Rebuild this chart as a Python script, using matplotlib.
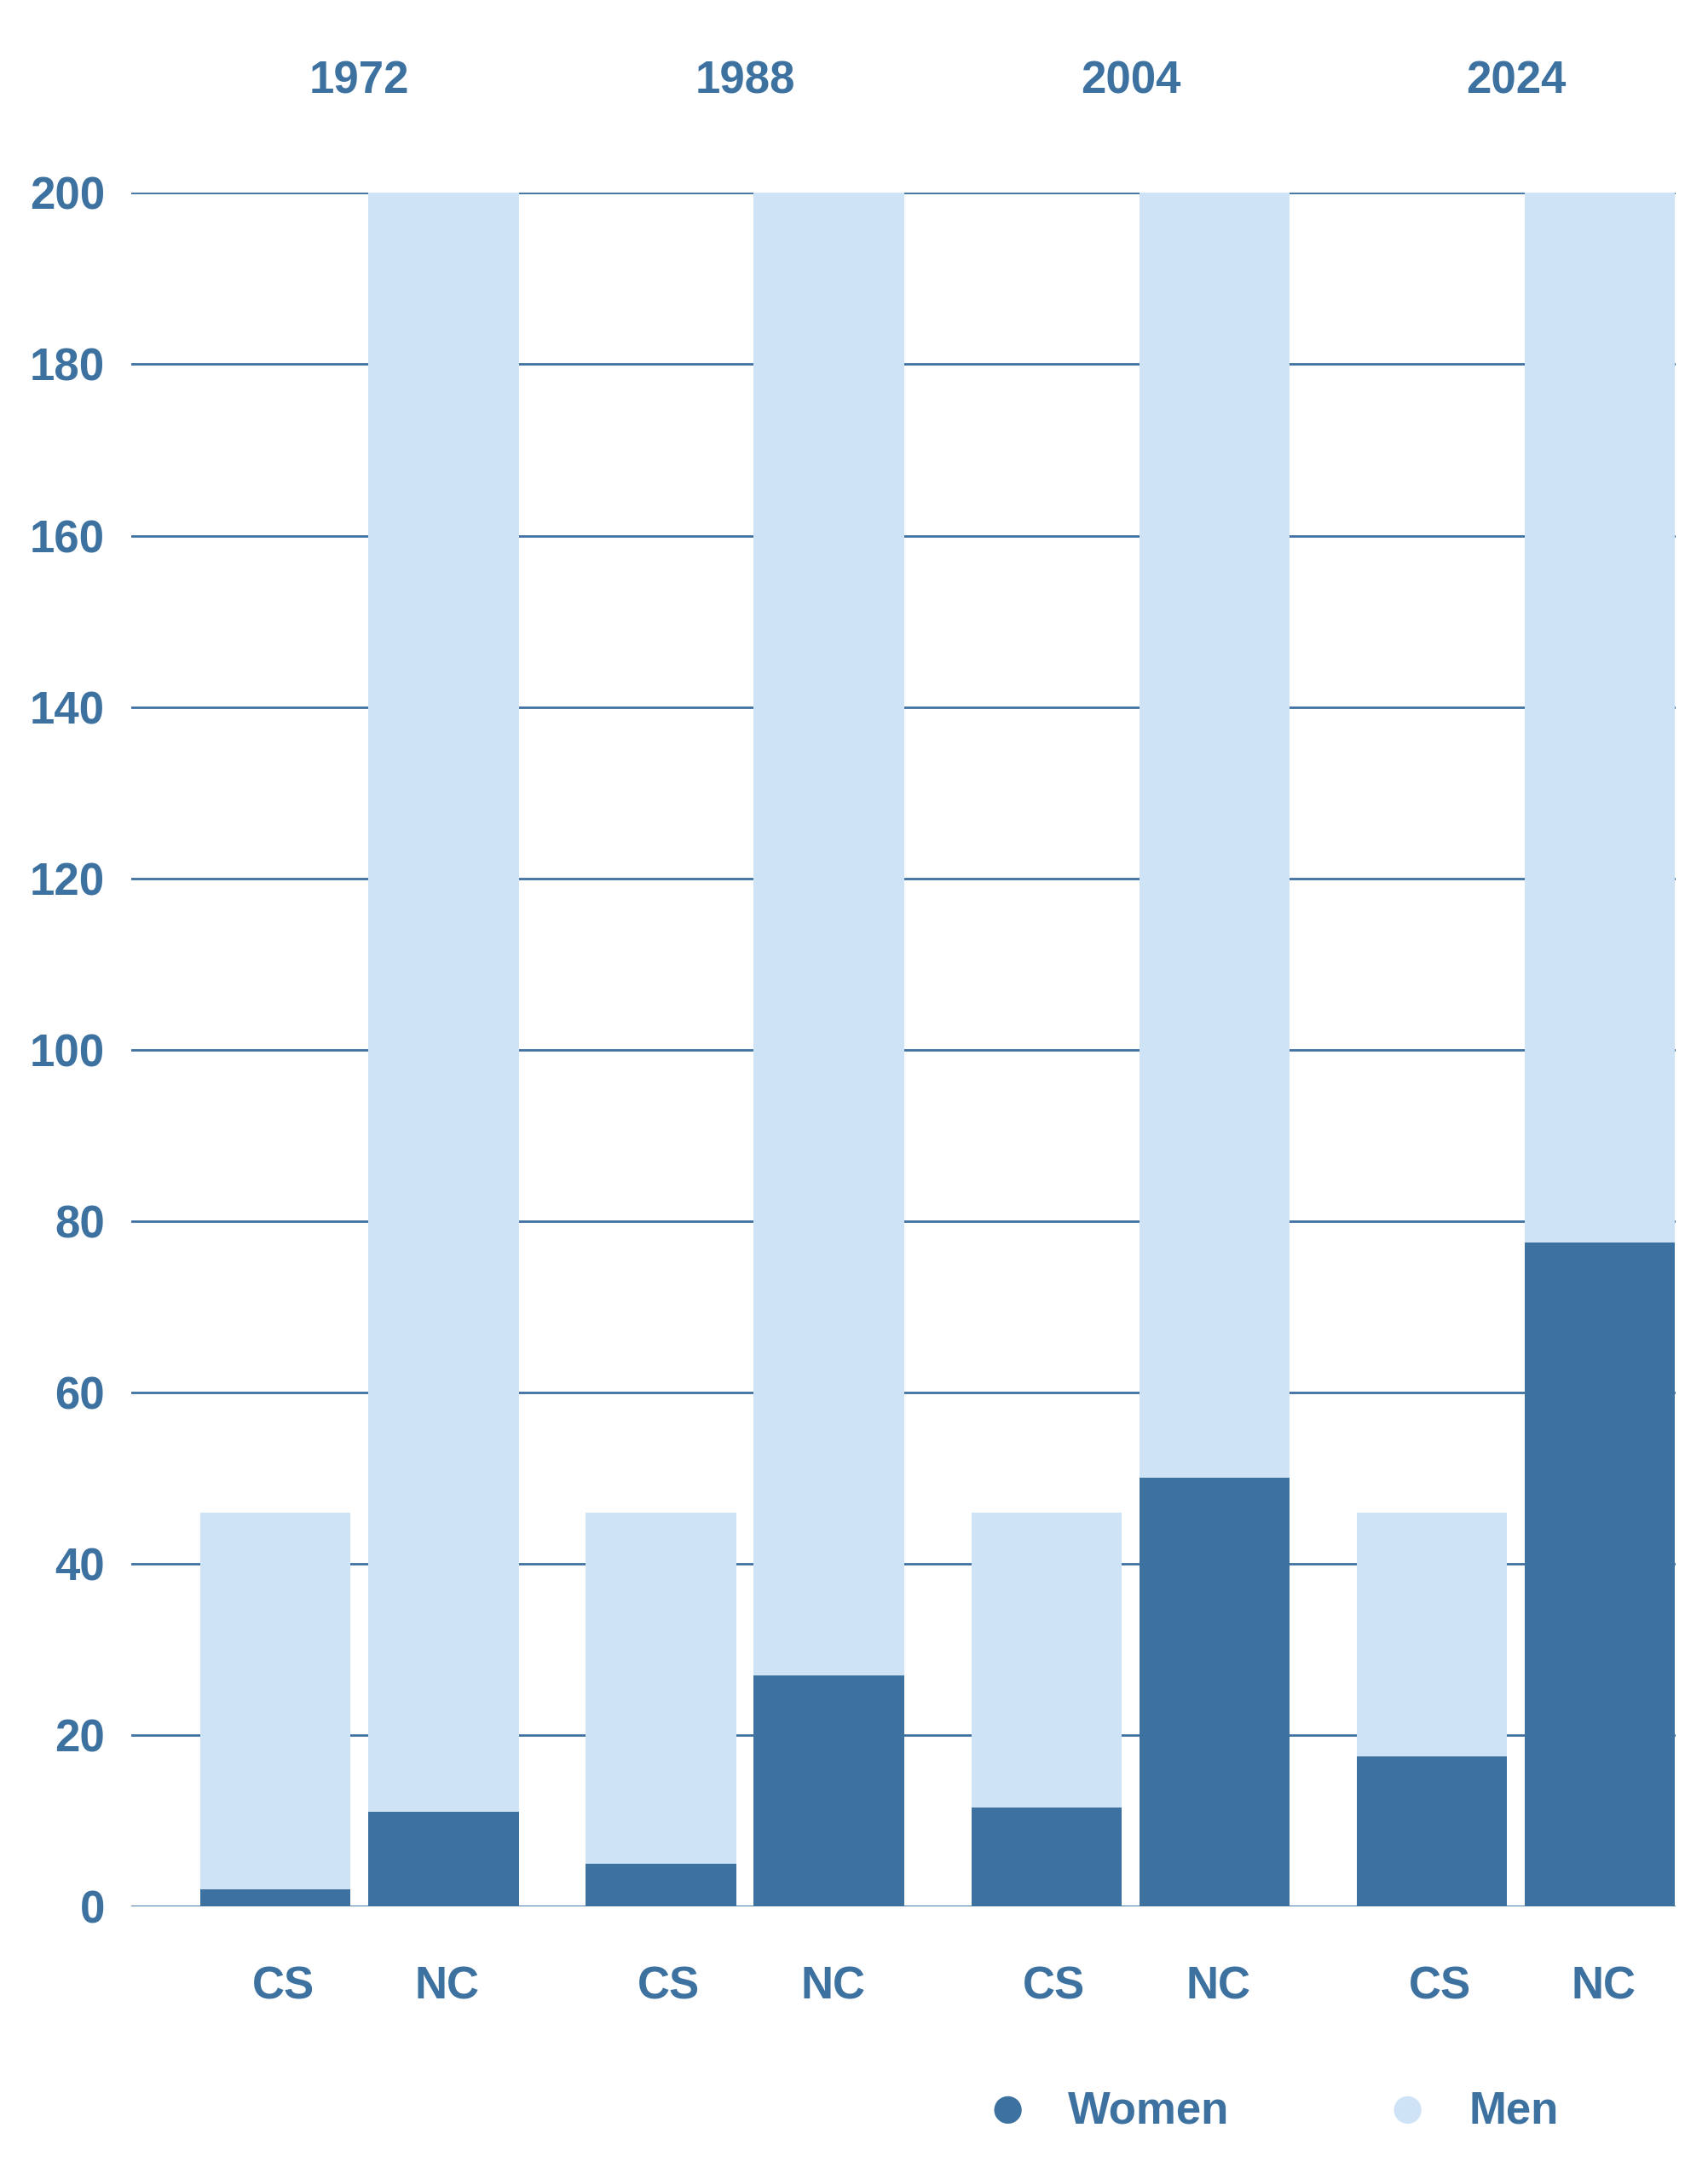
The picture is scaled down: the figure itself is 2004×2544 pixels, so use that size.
import numpy as np
import matplotlib
matplotlib.use("Agg")
from matplotlib import pyplot as plt

years = ["1972", "1988", "2004", "2024"]
cs_total = [46, 46, 46, 46]
nc_total = [200, 200, 200, 200]
cs_women = [2, 5, 11.5, 17.5]
nc_women = [11, 27, 50, 77.5]

dark = "#3d71a0"
light = "#cfe3f6"
plt.rcParams["font.family"] = "Liberation Sans"
plt.rcParams["font.weight"] = "bold"

fig = plt.figure(figsize=(20.04, 25.44), dpi=100)
ax = fig.add_axes([0.0766, 0.1207, 0.9044, 0.7903])

x = np.arange(len(years))
off = 0.218
w = 0.39
cs_men = np.array(cs_total) - np.array(cs_women)
nc_men = np.array(nc_total) - np.array(nc_women)
ax.bar(x - off, cs_women, w, color=dark, zorder=3)
ax.bar(x - off, cs_men, w, bottom=cs_women, color=light, zorder=3)
ax.bar(x + off, nc_women, w, color=dark, zorder=3)
ax.bar(x + off, nc_men, w, bottom=nc_women, color=light, zorder=3)

ax.set_xlim(-0.593, 3.414)
ax.set_ylim(0, 200)
ax.set_yticks(range(0, 201, 20))
ax.yaxis.grid(True, color=dark, linewidth=2, zorder=0)
ax.set_axisbelow(True)
for s in ax.spines.values():
    s.set_visible(False)
ax.tick_params(axis="y", length=0, labelsize=38, labelcolor=dark, pad=22)
ax.set_xticks([])

for i, yr in enumerate(years):
    ax.text(i, 1.065, yr, transform=ax.get_xaxis_transform(), ha="center",
            va="center", fontsize=38, color=dark)
    ax.text(i - off + 0.02, -0.047, "CS", transform=ax.get_xaxis_transform(),
            ha="center", va="center", fontsize=38, color=dark)
    ax.text(i + off + 0.01, -0.047, "NC", transform=ax.get_xaxis_transform(),
            ha="center", va="center", fontsize=38, color=dark)

# legend
fig.text(0.59, 0.026, "\u25cf", color=dark, fontsize=54, ha="center", va="center")
fig.text(0.625, 0.026, "Women", color=dark, fontsize=38, ha="left", va="center")
fig.text(0.824, 0.026, "\u25cf", color=light, fontsize=54, ha="center", va="center")
fig.text(0.86, 0.026, "Men", color=dark, fontsize=38, ha="left", va="center")

fig.savefig("out.png", dpi=100)
